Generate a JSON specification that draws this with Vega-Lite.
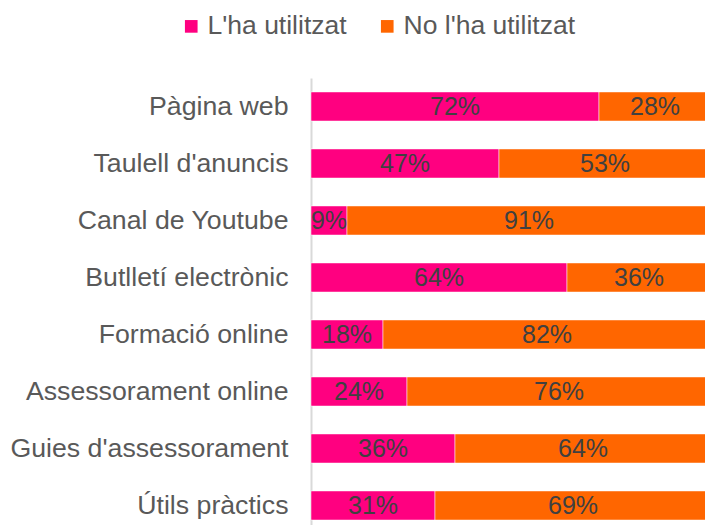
{
  "$schema": "https://vega.github.io/schema/vega-lite/v6.json",
  "autosize": "none",
  "padding": {"left": 311, "top": 78, "right": 0, "bottom": 0},
  "width": 400,
  "height": 456,
  "background": "#ffffff",
  "config": {"view": {"stroke": null}, "font": "Liberation Sans"},
  "data": {
    "values": [
      {"cat": "Pàgina web", "series": "L'ha utilitzat", "value": 72},
      {"cat": "Pàgina web", "series": "No l'ha utilitzat", "value": 28},
      {"cat": "Taulell d'anuncis", "series": "L'ha utilitzat", "value": 47},
      {"cat": "Taulell d'anuncis", "series": "No l'ha utilitzat", "value": 53},
      {"cat": "Canal de Youtube", "series": "L'ha utilitzat", "value": 9},
      {"cat": "Canal de Youtube", "series": "No l'ha utilitzat", "value": 91},
      {"cat": "Butlletí electrònic", "series": "L'ha utilitzat", "value": 64},
      {"cat": "Butlletí electrònic", "series": "No l'ha utilitzat", "value": 36},
      {"cat": "Formació online", "series": "L'ha utilitzat", "value": 18},
      {"cat": "Formació online", "series": "No l'ha utilitzat", "value": 82},
      {"cat": "Assessorament online", "series": "L'ha utilitzat", "value": 24},
      {"cat": "Assessorament online", "series": "No l'ha utilitzat", "value": 76},
      {"cat": "Guies d'assessorament", "series": "L'ha utilitzat", "value": 36},
      {"cat": "Guies d'assessorament", "series": "No l'ha utilitzat", "value": 64},
      {"cat": "Útils pràctics", "series": "L'ha utilitzat", "value": 31},
      {"cat": "Útils pràctics", "series": "No l'ha utilitzat", "value": 69}
    ]
  },
  "transform": [
    {"stack": "value", "groupby": ["cat"], "sort": [{"field": "series", "order": "ascending"}], "as": ["x0", "x1"]},
    {"calculate": "(datum.x0 + datum.x1) / 2", "as": "xmid"},
    {"calculate": "datum.value + '%'", "as": "label"}
  ],
  "encoding": {
    "y": {
      "field": "cat",
      "type": "nominal",
      "sort": null,
      "scale": {"paddingInner": 0.49, "paddingOuter": 0.245},
      "axis": {
        "title": null,
        "ticks": false,
        "labelFontSize": 26.7,
        "labelColor": "#595959",
        "labelPadding": 23,
        "labelLimit": 0,
        "labelFont": "Liberation Sans",
        "domainColor": "#d9d9d9",
        "domainWidth": 2
      }
    }
  },
  "layer": [
    {
      "mark": {"type": "bar", "stroke": "#ffffff", "strokeWidth": 0.5},
      "encoding": {
        "x": {"field": "x0", "type": "quantitative", "scale": {"domain": [0, 100], "nice": false}, "axis": null},
        "x2": {"field": "x1"},
        "color": {
          "field": "series",
          "type": "nominal",
          "scale": {"domain": ["L'ha utilitzat", "No l'ha utilitzat"], "range": ["#ff0080", "#ff6600"]},
          "legend": {
            "title": null,
            "orient": "none",
            "direction": "horizontal",
            "legendX": -133,
            "legendY": -65,
            "symbolType": "square",
            "symbolSize": 160,
            "symbolStrokeWidth": 0,
            "labelFontSize": 26.5,
            "labelColor": "#595959",
            "labelFont": "Liberation Sans",
            "labelOffset": 3,
            "labelLimit": 0,
            "columnPadding": 27
          }
        }
      }
    },
    {
      "mark": {"type": "text", "fontSize": 25, "color": "#404040", "align": "center", "baseline": "middle", "font": "Liberation Sans"},
      "encoding": {
        "x": {"field": "xmid", "type": "quantitative"},
        "text": {"field": "label", "type": "nominal"},
        "detail": {"field": "series"}
      }
    }
  ]
}
